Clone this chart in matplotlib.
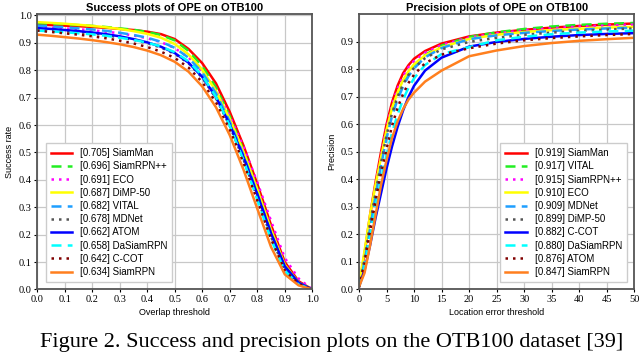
import numpy as np
import matplotlib
matplotlib.use("Agg")
import matplotlib.pyplot as plt
from matplotlib.ticker import FormatStrFormatter

# success plot (overlap threshold 0..1 step 0.05)
overlap = np.linspace(0, 1, 21)
success_names = ["SiamMan", "SiamRPN++", "ECO", "DiMP-50", "VITAL", "MDNet",
                 "ATOM", "DaSiamRPN", "C-COT", "SiamRPN"]
success_scores = [0.705, 0.696, 0.691, 0.687, 0.682, 0.678, 0.662, 0.658, 0.642, 0.634]
success_vals = [
    [.967, .965, .963, .961, .958, .955, .951, .947, .941, .932, .914, .878, .826, .752, .648, .525, .385, .235, .1, .03, 0],
    [.972, .970, .968, .965, .962, .958, .953, .948, .940, .929, .909, .871, .815, .737, .632, .508, .367, .218, .088, .025, 0],
    [.958, .956, .953, .950, .946, .941, .935, .927, .917, .903, .881, .847, .797, .727, .633, .52, .392, .25, .115, .04, 0],
    [.976, .973, .970, .966, .962, .957, .951, .943, .933, .919, .896, .858, .802, .724, .622, .502, .365, .218, .09, .025, 0],
    [.963, .960, .957, .953, .949, .944, .937, .929, .919, .904, .882, .846, .792, .716, .612, .49, .35, .205, .08, .022, 0],
    [.950, .947, .943, .939, .934, .928, .920, .911, .899, .883, .860, .826, .773, .698, .597, .474, .335, .192, .072, .02, 0],
    [.954, .951, .947, .943, .938, .932, .924, .914, .902, .886, .863, .828, .776, .702, .603, .484, .348, .205, .085, .025, 0],
    [.945, .942, .939, .935, .931, .926, .919, .911, .901, .887, .866, .833, .780, .703, .598, .472, .328, .183, .068, .018, 0],
    [.945, .940, .935, .930, .924, .917, .908, .898, .885, .868, .845, .810, .757, .683, .583, .462, .325, .185, .07, .02, 0],
    [.930, .926, .921, .916, .910, .903, .895, .885, .872, .855, .831, .795, .741, .665, .563, .437, .295, .155, .055, .015, 0],
]

# precision plot (location error threshold)
loc_err = [0, 1, 2, 3, 4, 5, 6, 7, 8, 9, 10, 12, 15, 20, 25, 30, 35, 40, 45, 50]
prec_names = ["SiamMan", "VITAL", "SiamRPN++", "ECO", "MDNet", "DiMP-50",
              "C-COT", "DaSiamRPN", "ATOM", "SiamRPN"]
prec_scores = [0.919, 0.917, 0.915, 0.910, 0.909, 0.899, 0.882, 0.880, 0.876, 0.847]
prec_vals = [
    [.01, .13, .27, .39, .5, .6, .68, .74, .785, .815, .838, .866, .893, .919, .933, .943, .951, .957, .962, .966],
    [.01, .11, .24, .36, .47, .57, .65, .71, .755, .79, .815, .852, .886, .917, .934, .946, .955, .961, .965, .968],
    [.01, .12, .26, .38, .49, .59, .67, .73, .775, .808, .830, .860, .888, .915, .930, .941, .949, .955, .959, .962],
    [.02, .14, .27, .38, .48, .58, .66, .715, .76, .793, .818, .850, .880, .910, .925, .935, .942, .947, .951, .954],
    [.01, .10, .22, .34, .45, .55, .63, .69, .737, .775, .803, .843, .877, .909, .923, .932, .939, .944, .948, .951],
    [.01, .11, .24, .35, .46, .56, .64, .70, .745, .78, .805, .840, .872, .899, .914, .925, .933, .939, .944, .948],
    [.01, .07, .16, .26, .35, .44, .52, .59, .65, .70, .74, .795, .842, .882, .899, .910, .918, .924, .928, .931],
    [.01, .08, .19, .30, .40, .49, .57, .635, .69, .733, .767, .815, .855, .880, .905, .918, .927, .933, .937, .940],
    [.01, .09, .21, .32, .42, .51, .595, .66, .71, .75, .78, .822, .853, .876, .893, .905, .913, .919, .924, .928],
    [.01, .06, .16, .27, .38, .47, .55, .61, .655, .69, .715, .755, .795, .847, .868, .884, .895, .903, .909, .914],
]

# style per rank (same order in both plots)
colors = ["#ff0000", "#22ee22", "#ff00ff", "#ffff00", "#1e9fff",
          "#555555", "#0000ff", "#00ffff", "#800000", "#ff7f1e"]
styles = ["-", (0, (4, 2.5)), (0, (1, 2)), "-", (0, (4, 2.5)),
          (0, (1, 2)), "-", (0, (4, 2.5)), (0, (1, 2)), "-"]

sans = "Liberation Sans"
serif = "Liberation Serif"

fig = plt.figure(figsize=(6.4, 3.53), dpi=100)
ax1 = fig.add_axes([0.058, 0.180, 0.430, 0.780])
ax2 = fig.add_axes([0.561, 0.180, 0.430, 0.780])

for i in range(10):
    ax1.plot(overlap, success_vals[i], color=colors[i], linestyle=styles[i], lw=1.8,
             label=f"[{success_scores[i]:.3f}] {success_names[i]}")
    ax2.plot(loc_err, prec_vals[i], color=colors[i], linestyle=styles[i], lw=1.8,
             label=f"[{prec_scores[i]:.3f}] {prec_names[i]}")

ax1.set_xlim(0, 1)
ax1.set_ylim(0, 1.005)
ax1.set_xticks(np.arange(0, 1.01, 0.1))
ax1.set_yticks(np.arange(0, 1.01, 0.1))
ax2.set_xlim(0, 50)
ax2.set_ylim(0, 1.0)
ax2.set_xticks(np.arange(0, 51, 5))
ax2.set_yticks(np.arange(0, 0.91, 0.1))

for ax, title, xl, yl in [(ax1, "Success plots of OPE on OTB100", "Overlap threshold", "Success rate"),
                          (ax2, "Precision plots of OPE on OTB100", "Location error threshold", "Precision")]:
    ax.grid(True, color="#c8c8c8", lw=0.9)
    ax.set_axisbelow(True)
    for s in ax.spines.values():
        s.set_color("#555555")
        s.set_linewidth(1.3)
    ax.tick_params(length=2, width=0.8, pad=2, labelsize=7.5)
    for lab in ax.get_xticklabels() + ax.get_yticklabels():
        lab.set_fontfamily(serif)
    if ax is ax1:
        ax.xaxis.set_major_formatter(FormatStrFormatter("%.1f"))
    ax.yaxis.set_major_formatter(FormatStrFormatter("%.1f"))
    ax.set_title(title, fontsize=8, fontweight="bold", family=sans, pad=2)
    ax.set_xlabel(xl, fontsize=6.5, family=sans, labelpad=3)
    ax.set_ylabel(yl, fontsize=6.5, family=sans, labelpad=3)

leg_kw = dict(prop={"family": sans, "size": 7}, frameon=True, fancybox=False,
              edgecolor="#cccccc", framealpha=1, handlelength=2.2, labelspacing=0.33,
              borderpad=0.5, handletextpad=0.8)
ax1.legend(loc="lower left", bbox_to_anchor=(0.015, 0.01), **leg_kw)
ax2.legend(loc="lower right", bbox_to_anchor=(0.99, 0.01), **leg_kw)

fig.text(0.062, 1 - 347 / 353, "Figure 2. Success and precision plots on the OTB100 dataset [39]",
         family=serif, fontsize=16, va="baseline", ha="left")

fig.savefig("out.png", dpi=100)
